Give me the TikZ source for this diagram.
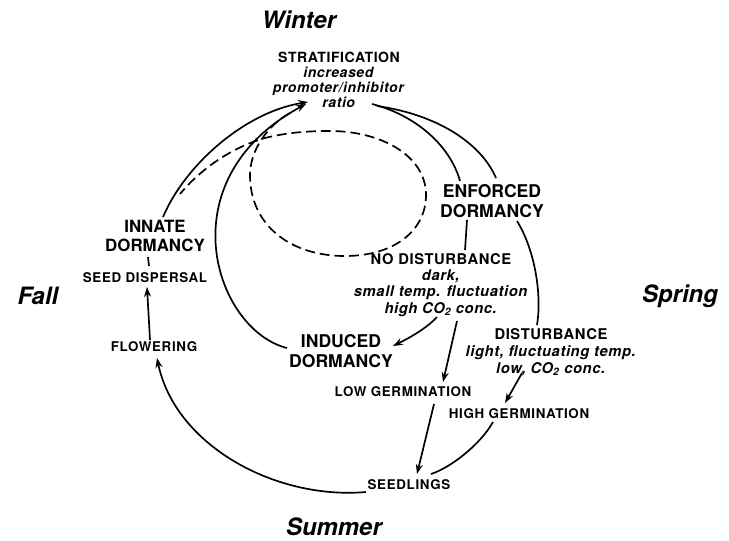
\documentclass[tikz,border=0pt]{standalone}
\usepackage{fontspec}
\setmainfont{TeX Gyre Heros}
\usetikzlibrary{arrows.meta,calc}
\begin{document}
\begin{tikzpicture}[
      x=0.025cm, y=-0.025cm,
      line width=1.2pt,
      season/.style={font=\fontsize{17}{20}\selectfont\bfseries\itshape, inner sep=0pt},
      stage/.style={font=\fontsize{12.5}{14.2}\selectfont\bfseries, align=center, inner sep=0pt},
      event/.style={font=\fontsize{9.5}{11}\selectfont\bfseries\addfontfeature{LetterSpace=5}, inner sep=0pt},
      cond/.style={font=\fontsize{10.5}{11.5}\selectfont\bfseries\addfontfeature{LetterSpace=4}, align=center, inner sep=0pt},
      flow/.style={-{Stealth[length=7pt,width=5pt]}},
      maybe/.style={dash pattern=on 7pt off 3.5pt}
    ]
    \useasboundingbox (0,0) rectangle (729,540);
    \node[season] (winter) at (299,20) {Winter};
    \node[season] (fall) at (38,296) {Fall};
    \node[season] (spring) at (680,296) {Spring};
    \node[season] (summer) at (334,527) {Summer};
    \node[cond, font=\fontsize{10}{10.6}\selectfont\bfseries\addfontfeature{LetterSpace=4}] (strat) at (339,80)
      {STRATIFICATION\\ \textit{increased}\\ \textit{promoter/inhibitor}\\ \textit{ratio}};
    \node[stage] (enforced) at (492,201) {ENFORCED\\DORMANCY};
    \node[stage, font=\fontsize{12}{13.5}\selectfont\bfseries] (innate) at (155,236) {INNATE\\DORMANCY};
    \node[stage] (induced) at (341,351) {INDUCED\\DORMANCY};
    \node[event] (seeddisp) at (145,278) {SEED DISPERSAL};
    \node[event] (flowering) at (154,347) {FLOWERING};
    \node[cond] (nodist) at (441,285)
      {NO DISTURBANCE\\ \textit{dark,}\\ \textit{small temp. fluctuation}\\ \textit{high CO\textsubscript{2} conc.}};
    \node[cond, font=\fontsize{10.5}{12}\selectfont\bfseries\addfontfeature{LetterSpace=4}] (disturb) at (551,352)
      {DISTURBANCE\\ \textit{light, fluctuating temp.}\\ \textit{low, CO\textsubscript{2} conc.}};
    \node[event] (lowgerm) at (403,392) {LOW GERMINATION};
    \node[event] (highgerm) at (519,414) {HIGH GERMINATION};
    \node[event] (seedlings) at (409,485) {SEEDLINGS};
    \draw[flow] ($(innate)+(8,-19)$) .. controls (185,165) and (245,112) .. ($(strat)+(-31,22)$);
    \draw[flow] ($(induced)+(-54,-3)$) .. controls (215,330) and (165,180) .. ($(strat)+(-33,24)$);
    \draw ($(strat)+(33,24)$) .. controls (415,115) and (450,145) .. ($(enforced)+(-32,-20)$);
    \draw ($(strat)+(38,26)$) .. controls (440,115) and (482,145) .. ($(enforced)+(4,-23)$);
    \draw ($(enforced)+(-25,19)$) -- ($(nodist)+(24,-35)$);
    \draw ($(enforced)+(25,20)$) .. controls (535,250) and (542,295) .. ($(disturb)+(-14,-27)$);
    \draw[flow] ($(nodist)+(-4,32)$) .. controls (425,330) and (405,340) .. ($(induced)+(52,-5)$);
    \draw[flow] ($(nodist)+(16,36)$) -- ($(lowgerm)+(40,-10)$);
    \draw[flow] ($(disturb)+(-29,21)$) -- ($(highgerm)+(-14,-11)$);
    \draw[flow] ($(lowgerm)+(31,12)$) -- ($(seedlings)+(8,-11)$);
    \draw ($(highgerm)+(-26,8)$) .. controls (480,445) and (450,468) .. ($(seedlings)+(22,-11)$);
    \draw[flow] ($(seedlings)+(-43,7)$) .. controls (275,500) and (175,445) .. ($(flowering)+(3,11)$);
    \draw[flow] ($(flowering)+(-4,-7)$) -- ($(seeddisp)+(2,9)$);
    \draw ($(seeddisp)+(4,-12)$) -- ($(innate)+(-7,21)$);
    \draw[maybe] ($(strat)+(-49,33)$) .. controls (268,125) and (250,150) .. (250,175)
      .. controls (250,225) and (290,256) .. (345,256)
      .. controls (395,256) and (426,230) .. (426,195)
      .. controls (426,155) and (380,131) .. (330,131)
      .. controls (305,131) and (285,133) .. (265,138)
      .. controls (230,148) and (200,170) .. ($(innate)+(25,-42)$);
  \end{tikzpicture}
\end{document}
